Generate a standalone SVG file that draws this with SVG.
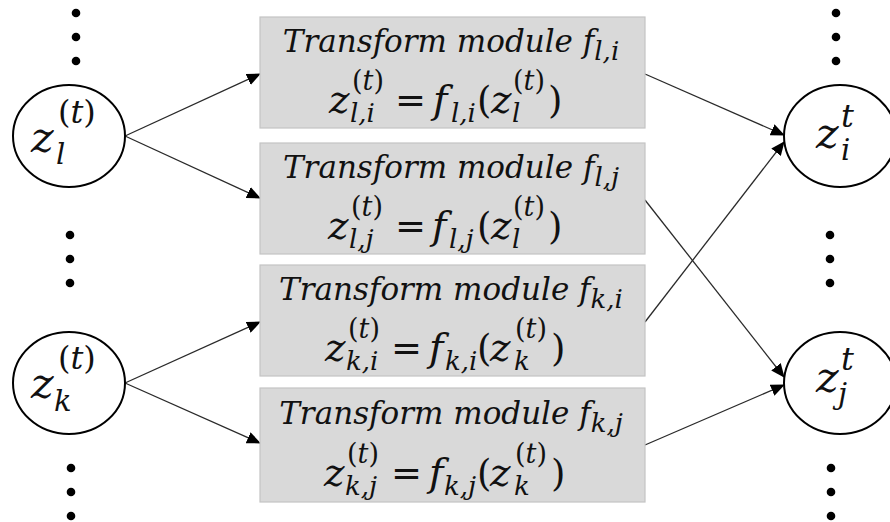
<svg xmlns="http://www.w3.org/2000/svg" width="890" height="522" viewBox="0 0 890 522">
<defs>
<style>
.node{fill:#fff;stroke:#000;stroke-width:2}
.box{fill:#d9d9d9;stroke:#c4c4c4;stroke-width:1.2}
.dot{fill:#000}
.edge{stroke:#2a2a2a;stroke-width:1.3;fill:none;marker-end:url(#ah)}
text{font-family:"DejaVu Serif","Liberation Serif",serif;fill:#111}
.t1{font-size:31px;font-style:italic}
.m{font-size:39px;font-style:italic}
.mu{font-size:37px;font-style:normal}
.sup{font-size:27px}
.sub{font-size:26px;font-style:italic}
.nm{font-size:43px;font-style:italic}
.nsup{font-size:32px}
.nsub{font-size:29px;font-style:italic}
.it{font-style:italic}
</style>
<marker id="ah" markerUnits="userSpaceOnUse" markerWidth="14" markerHeight="12" refX="13" refY="6" orient="auto" viewBox="0 0 14 12">
<path d="M0,0 L14,6 L0,12 Z" fill="#000"/>
</marker>
</defs>
<rect width="890" height="522" fill="#fff"/>

<g id="dots">
<circle class="dot" cx="76" cy="13" r="4.3"/><circle class="dot" cx="76" cy="37" r="4.3"/><circle class="dot" cx="76" cy="61" r="4.3"/>
<circle class="dot" cx="70" cy="235" r="4.3"/><circle class="dot" cx="70" cy="259" r="4.3"/><circle class="dot" cx="70" cy="283" r="4.3"/>
<circle class="dot" cx="71" cy="468" r="4.3"/><circle class="dot" cx="71" cy="492" r="4.3"/><circle class="dot" cx="71" cy="516" r="4.3"/>
<circle class="dot" cx="836" cy="13" r="4.3"/><circle class="dot" cx="836" cy="37" r="4.3"/><circle class="dot" cx="836" cy="61" r="4.3"/>
<circle class="dot" cx="830" cy="235" r="4.3"/><circle class="dot" cx="830" cy="259" r="4.3"/><circle class="dot" cx="830" cy="283" r="4.3"/>
<circle class="dot" cx="831" cy="468" r="4.3"/><circle class="dot" cx="831" cy="492" r="4.3"/><circle class="dot" cx="831" cy="516" r="4.3"/>
</g>

<g id="connectors">
<line class="edge" x1="125" y1="136" x2="260" y2="74"/>
<line class="edge" x1="125" y1="136" x2="260" y2="198"/>
<line class="edge" x1="125" y1="383" x2="260" y2="322"/>
<line class="edge" x1="125" y1="383" x2="260" y2="443"/>
<line class="edge" x1="645" y1="74" x2="784" y2="135"/>
<line class="edge" x1="645" y1="322" x2="784" y2="142"/>
<line class="edge" x1="645" y1="200" x2="784" y2="377"/>
<line class="edge" x1="645" y1="445" x2="784" y2="385"/>
</g>

<g id="node-zl">
<ellipse class="node" cx="69" cy="136" rx="56" ry="51"/>
<text><tspan class="nm" x="31" y="152">z</tspan><tspan class="nsup" x="58" y="123">(<tspan class="it">t</tspan>)</tspan><tspan class="nsub" x="56" y="164">l</tspan></text>
</g>

<g id="node-zk">
<ellipse class="node" cx="69" cy="383" rx="56" ry="51"/>
<text><tspan class="nm" x="31" y="398">z</tspan><tspan class="nsup" x="58" y="369">(<tspan class="it">t</tspan>)</tspan><tspan class="nsub" x="54" y="411">k</tspan></text>
</g>

<g id="node-zi">
<ellipse class="node" cx="840" cy="136" rx="56" ry="51"/>
<text><tspan class="nm" x="816" y="148">z</tspan><tspan class="nsup it" x="841" y="127">t</tspan><tspan class="nsub" x="841" y="160">i</tspan></text>
</g>

<g id="node-zj">
<ellipse class="node" cx="840" cy="383" rx="56" ry="51"/>
<text><tspan class="nm" x="816" y="392">z</tspan><tspan class="nsup it" x="841" y="370">t</tspan><tspan class="nsub" x="838" y="404">j</tspan></text>
</g>

<g id="box-li">
<rect class="box" x="260" y="17" width="385" height="111"/>
<text class="t1" x="451" y="52" text-anchor="middle">Transform module f<tspan class="sub" dy="8">l,i</tspan></text>
<text><tspan class="m" x="329" y="113">z</tspan><tspan class="sup" x="352" y="90">(<tspan class="it">t</tspan>)</tspan><tspan class="sub" x="350" y="122">l,i</tspan><tspan class="mu" x="395" y="113">=</tspan><tspan class="m" x="433" y="113">f</tspan><tspan class="sub" x="451" y="122">l,i</tspan><tspan class="mu" x="477" y="113">(</tspan><tspan class="m" x="491" y="113">z</tspan><tspan class="sup" x="513" y="90">(<tspan class="it">t</tspan>)</tspan><tspan class="sub" x="512" y="122">l</tspan><tspan class="mu" x="548" y="113">)</tspan></text>
</g>

<g id="box-lj">
<rect class="box" x="260" y="143" width="385" height="111"/>
<text class="t1" x="451" y="178" text-anchor="middle">Transform module f<tspan class="sub" dy="8">l,j</tspan></text>
<text><tspan class="m" x="328" y="239">z</tspan><tspan class="sup" x="351" y="216">(<tspan class="it">t</tspan>)</tspan><tspan class="sub" x="349" y="248">l,j</tspan><tspan class="mu" x="395" y="239">=</tspan><tspan class="m" x="432" y="239">f</tspan><tspan class="sub" x="449" y="248">l,j</tspan><tspan class="mu" x="477" y="239">(</tspan><tspan class="m" x="491" y="239">z</tspan><tspan class="sup" x="513" y="216">(<tspan class="it">t</tspan>)</tspan><tspan class="sub" x="512" y="248">l</tspan><tspan class="mu" x="548" y="239">)</tspan></text>
</g>

<g id="box-ki">
<rect class="box" x="260" y="265" width="385" height="111"/>
<text class="t1" x="451" y="300" text-anchor="middle">Transform module f<tspan class="sub" dy="8">k,i</tspan></text>
<text><tspan class="m" x="325" y="361">z</tspan><tspan class="sup" x="348" y="338">(<tspan class="it">t</tspan>)</tspan><tspan class="sub" x="346" y="370">k,i</tspan><tspan class="mu" x="391" y="361">=</tspan><tspan class="m" x="429" y="361">f</tspan><tspan class="sub" x="445" y="370">k,i</tspan><tspan class="mu" x="477" y="361">(</tspan><tspan class="m" x="490" y="361">z</tspan><tspan class="sup" x="515" y="338">(<tspan class="it">t</tspan>)</tspan><tspan class="sub" x="514" y="370">k</tspan><tspan class="mu" x="551" y="361">)</tspan></text>
</g>

<g id="box-kj">
<rect class="box" x="260" y="388" width="385" height="114"/>
<text class="t1" x="451" y="424" text-anchor="middle">Transform module f<tspan class="sub" dy="8">k,j</tspan></text>
<text><tspan class="m" x="324" y="486">z</tspan><tspan class="sup" x="347" y="463">(<tspan class="it">t</tspan>)</tspan><tspan class="sub" x="345" y="495">k,j</tspan><tspan class="mu" x="391" y="486">=</tspan><tspan class="m" x="429" y="486">f</tspan><tspan class="sub" x="444" y="495">k,j</tspan><tspan class="mu" x="477" y="486">(</tspan><tspan class="m" x="490" y="486">z</tspan><tspan class="sup" x="515" y="463">(<tspan class="it">t</tspan>)</tspan><tspan class="sub" x="514" y="495">k</tspan><tspan class="mu" x="551" y="486">)</tspan></text>
</g>
</svg>
